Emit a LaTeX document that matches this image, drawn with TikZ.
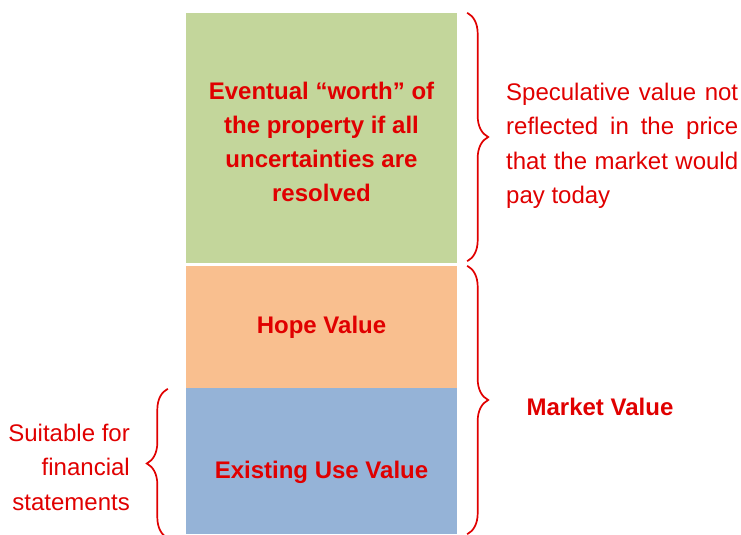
\documentclass[tikz,border=0pt]{standalone}
\usepackage{fontspec}
\setmainfont{Liberation Sans}
\usetikzlibrary{decorations.pathreplacing}

\definecolor{worthgreen}{HTML}{C3D69B}
\definecolor{hopeorange}{HTML}{F9BF8F}
\definecolor{euvblue}{HTML}{95B3D7}
\definecolor{valred}{HTML}{E00000}

\tikzset{
  block/.style={inner sep=0pt, minimum width=271pt},
  boldlbl/.style={text=valred, inner sep=0pt, align=center, font=\bfseries\fontsize{24}{34}\selectfont},
  plainlbl/.style={text=valred, inner sep=0pt, font=\fontsize{24}{34.5}\selectfont},
  vbrace/.style={draw=valred, line width=1.7pt, decorate, decoration={brace, amplitude=21pt}}
}

\begin{document}
\begin{tikzpicture}[x=1pt,y=-1pt]
\useasboundingbox (0,0) rectangle (741,535);

\def\boxx{321.5}
\def\bracegap{10}

% the three stacked values
\node[block, fill=worthgreen, minimum height=250pt] (worth) at (\boxx,138) {};
\node[block, fill=hopeorange, minimum height=122pt] (hope) at (\boxx,327) {};
\node[block, fill=euvblue, minimum height=146pt] (euv) at (\boxx,461) {};

\node[boldlbl] (worthtxt) at (\boxx,142) {Eventual “worth” of\\the property if all\\uncertainties are\\resolved};
\node[boldlbl] (hopetxt) at (\boxx,327) {Hope Value};
\node[boldlbl] (euvtxt) at (\boxx,472) {Existing Use Value};

% braces and what they say
\draw[vbrace] ([xshift=\bracegap]worth.north east) -- ([xshift=\bracegap, yshift=2]worth.south east);
\draw[vbrace] ([xshift=\bracegap]hope.north east) -- ([xshift=\bracegap]euv.south east);
\draw[vbrace] ([xshift=-18, yshift=-4]euv.south west) -- ([xshift=-18, yshift=-1]euv.north west);

\node[plainlbl, text width=232pt, align=justify, anchor=west] (spec) at (506,146)
  {Speculative value not\linebreak reflected in the price\linebreak that the market would\linebreak pay today};
\node[boldlbl] (mv) at (600,407) {Market Value};
\node[plainlbl, align=right, anchor=east] (fin) at (130,467) {Suitable for\\financial\\statements};

\end{tikzpicture}
\end{document}
